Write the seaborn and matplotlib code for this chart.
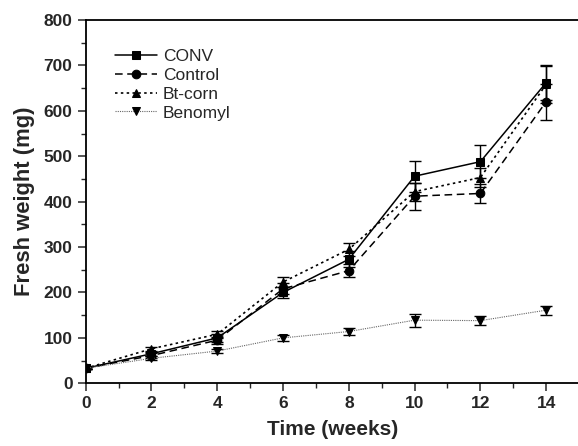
import numpy as np
import pandas as pd
import matplotlib
matplotlib.use("Agg")
import matplotlib.pyplot as plt
from matplotlib.ticker import MultipleLocator
import seaborn as sns

weeks = [0, 2, 4, 6, 8, 10, 12, 14]
conv = [33, 65, 100, 200, 273, 456, 488, 662]
control = [33, 61, 95, 208, 248, 412, 418, 620]
btcorn = [33, 76, 108, 223, 295, 422, 453, 658]
benomyl = [33, 55, 71, 100, 114, 139, 138, 161]
conv_err = [2, 5, 8, 12, 18, 34, 36, 38]
control_err = [2, 5, 8, 12, 15, 30, 21, 40]
btcorn_err = [2, 5, 8, 12, 14, 20, 20, 40]
benomyl_err = [2, 4, 5, 6, 8, 14, 10, 10]
series_names = ["CONV", "Control", "Bt-corn", "Benomyl"]

sns.set_style("ticks")
plt.rcParams['font.family'] = ['Liberation Sans', 'DejaVu Sans']

fig = plt.figure(figsize=(5.78, 4.46), dpi=100)
ax = fig.add_axes([0.1483, 0.1406, 0.8535, 0.8146])

vals = [conv, control, btcorn, benomyl]
errs = [conv_err, control_err, btcorn_err, benomyl_err]
rows = []
for name, v in zip(series_names, vals):
    for w, y in zip(weeks, v):
        rows.append({"week": w, "weight": y, "series": name})
df = pd.DataFrame(rows)

styles = {
    "CONV": dict(ls="-", marker="s", color="black", lw=1.1),
    "Control": dict(ls=(0, (5, 3)), marker="o", color="black", lw=1.1),
    "Bt-corn": dict(ls=(0, (1.5, 2)), marker="^", color="black", lw=1.2),
    "Benomyl": dict(ls=(0, (1, 1)), marker="v", color="#666666", lw=0.8),
}

for name, e in zip(series_names, errs):
    sub = df[df.series == name]
    st = styles[name]
    ax.errorbar(sub["week"], sub["weight"], yerr=e, fmt="none",
                ecolor="black", elinewidth=1.0, capsize=4, capthick=1.0, zorder=2)
    sns.lineplot(data=sub, x="week", y="weight", ax=ax, color=st["color"],
                 linestyle=st["ls"], linewidth=st["lw"], marker=st["marker"],
                 markersize=6.2, markerfacecolor="black", markeredgecolor="black",
                 label=name, zorder=3, errorbar=None)

ax.set_xlim(0, 15)
ax.set_ylim(0, 800)
ax.xaxis.set_major_locator(MultipleLocator(2))
ax.xaxis.set_minor_locator(MultipleLocator(1))
ax.yaxis.set_major_locator(MultipleLocator(100))
ax.yaxis.set_minor_locator(MultipleLocator(50))
ax.tick_params(which="major", direction="out", length=6, width=1.1, labelsize=12.5)
ax.tick_params(which="minor", direction="out", length=3.5, width=1.0)
for lab in ax.get_xticklabels() + ax.get_yticklabels():
    lab.set_fontweight("bold")
for s in ["left", "bottom", "top"]:
    ax.spines[s].set_linewidth(1.3)
    ax.spines[s].set_color("black")
ax.spines["right"].set_visible(False)

ax.set_xlabel("Time (weeks)", fontsize=15, fontweight="bold", labelpad=6)
ax.set_ylabel("Fresh weight (mg)", fontsize=15.8, fontweight="bold", labelpad=6)

leg = ax.legend(loc="upper left", bbox_to_anchor=(0.035, 0.955), frameon=False,
                fontsize=12.5, handlelength=2.4, handletextpad=0.35,
                labelspacing=0.22, borderaxespad=0.3)

fig.savefig("out.png", dpi=100)
